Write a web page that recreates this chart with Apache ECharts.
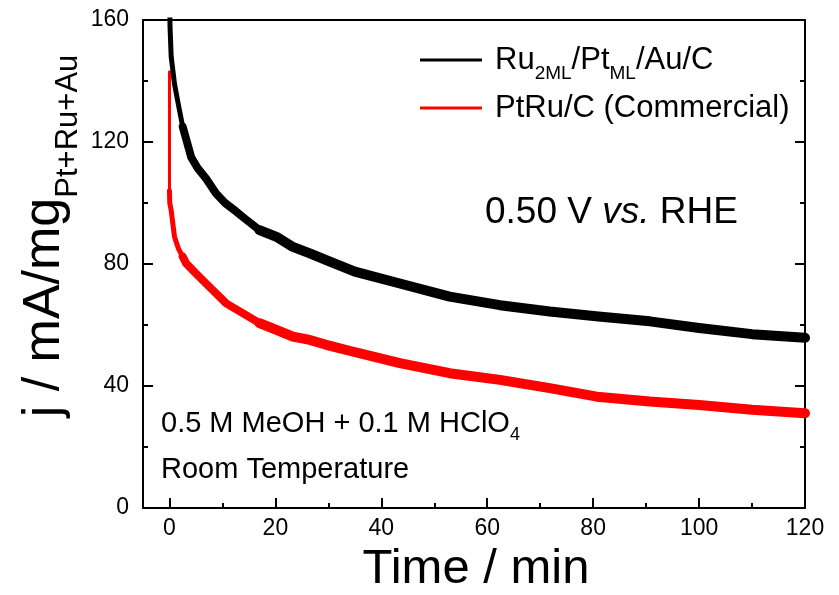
<!DOCTYPE html>
<html>
<head>
<meta charset="utf-8">
<script src="https://cdn.jsdelivr.net/npm/echarts@6/dist/echarts.min.js"></script>
<style>
  html, body { margin: 0; padding: 0; background: #fff; }
  #chart { width: 839px; height: 595px; }
</style>
</head>
<body>
<div id="chart"></div>
<script>
    // data (time in min, j in mA/mg)
    // each curve is split in pieces so the noisy band can get wider as it flattens
    var blackName = 'Ru2ML/PtML/Au/C';
    var redName = 'PtRu/C (Commercial)';

    var blackEarlyT = [0, 0.1, 0.32, 0.95, 1.6, 2.5];
    var blackEarlyJ = [172, 158, 148, 139, 133, 125];
    var blackMidT = [2.5, 3.3, 4.1, 5.3, 6.9, 8.8, 10.5, 12.6, 14.5, 17];
    var blackMidJ = [125, 120, 115, 111.5, 108, 103.1, 100, 97.2, 94.5, 91.1];
    var blackLateT = [17, 20.2, 23.3, 26.5, 29.6, 35, 43.5, 52.9, 62.4, 71.8, 81, 90.7, 100, 110, 120];
    var blackLateJ = [91.1, 88.9, 85.6, 83.5, 81.3, 77.5, 73.6, 69.3, 66.5, 64.4, 62.8, 61.2, 59, 57, 55.8];

    var redSpikeT = [0, 0];
    var redSpikeJ = [143, 104];
    var redEarlyT = [0, 0.05, 0.32, 0.95, 1.7, 2.5];
    var redEarlyJ = [104, 100, 97.6, 88.9, 85, 82.4];
    var redMidT = [2.5, 3.15, 5, 6.9, 8.8, 10.7, 13.9, 17];
    var redMidJ = [82.4, 80.2, 76.9, 73.6, 70.4, 67.1, 63.8, 60.6];
    var redLateT = [17, 20.2, 23.3, 26.5, 29.6, 33.4, 43.5, 52.9, 62.4, 71.8, 80.7, 90.7, 100, 110, 120];
    var redLateJ = [60.6, 58.4, 56.2, 55.1, 53.5, 51.8, 47.5, 44.2, 42, 39.3, 36.5, 34.9, 33.8, 32.2, 31.1];

    var xMajor = [0, 20, 40, 60, 80, 100, 120];
    var xMinor = [10, 30, 50, 70, 90, 110];

    function pairs(t, j) {
        var out = [];
        for (var i = 0; i < t.length; i++) out.push([t[i], j[i]]);
        return out;
    }

    function piece(name, color, t, j, w) {
        return {
            name: name, type: 'line', data: pairs(t, j),
            showSymbol: false, color: color,
            lineStyle: { color: color, width: w, join: 'round', cap: 'round' }
        };
    }

    var font = 'Liberation Sans, Arial, sans-serif';
    var myChart = echarts.init(document.getElementById('chart'));

    var axisLine = { show: true, onZero: false, lineStyle: { color: '#000', width: 2 } };

    option = {
        backgroundColor: '#fff',
        animation: false,
        grid: { left: 143, right: 34, top: 20, bottom: 87 },
        legend: {
            orient: 'vertical',
            left: 415,
            top: 32,
            itemWidth: 62,
            itemHeight: 3,
            itemGap: 2,
            icon: 'rect',
            selectedMode: false,
            data: [blackName, redName],
            formatter: function (name) {
                if (name === blackName) return '{a|Ru}{s|2ML}{a|/Pt}{s|ML}{a|/Au/C}';
                return name;
            },
            textStyle: {
                fontFamily: font, fontSize: 31, color: '#000', lineHeight: 46,
                padding: [0, 0, 0, 8],
                rich: {
                    a: { fontFamily: font, fontSize: 31, color: '#000', lineHeight: 46 },
                    s: { fontFamily: font, fontSize: 19, color: '#000', verticalAlign: 'bottom' }
                }
            }
        },
        xAxis: [{
            type: 'value', min: -5, max: 120, position: 'bottom',
            axisLine: axisLine,
            axisTick: { show: true, inside: true, length: 10, customValues: xMajor, lineStyle: { color: '#000', width: 2 } },
            axisLabel: { customValues: xMajor, fontFamily: font, fontSize: 23, color: '#000', margin: 9 },
            splitLine: { show: false }
        }, {
            type: 'value', min: -5, max: 120, position: 'bottom',
            axisLine: { show: false, onZero: false },
            axisTick: { show: true, inside: true, length: 5, customValues: xMinor, lineStyle: { color: '#000', width: 2 } },
            axisLabel: { show: false },
            splitLine: { show: false }
        }, {
            type: 'value', min: -5, max: 120, position: 'top',
            axisLine: axisLine,
            axisTick: { show: false },
            axisLabel: { show: false },
            splitLine: { show: false }
        }],
        yAxis: [{
            type: 'value', min: 0, max: 160, interval: 40, position: 'left',
            axisLine: axisLine,
            axisTick: { show: true, inside: true, length: 10, lineStyle: { color: '#000', width: 2 } },
            minorTick: { show: true, splitNumber: 2, length: 5, lineStyle: { color: '#000', width: 2 } },
            axisLabel: { fontFamily: font, fontSize: 23, color: '#000', margin: 14 },
            splitLine: { show: false }
        }, {
            type: 'value', min: 0, max: 160, interval: 40, position: 'right',
            axisLine: axisLine,
            axisTick: { show: true, inside: true, length: 10, lineStyle: { color: '#000', width: 2 } },
            minorTick: { show: true, splitNumber: 2, length: 5, lineStyle: { color: '#000', width: 2 } },
            axisLabel: { show: false },
            splitLine: { show: false }
        }],
        series: [
            piece(redName, '#ff0000', redSpikeT, redSpikeJ, 3),
            piece(redName, '#ff0000', redEarlyT, redEarlyJ, 5),
            piece(redName, '#ff0000', redMidT, redMidJ, 8),
            piece(redName, '#ff0000', redLateT, redLateJ, 10),
            piece(blackName, '#000', blackEarlyT, blackEarlyJ, 5),
            piece(blackName, '#000', blackMidT, blackMidJ, 8),
            piece(blackName, '#000', blackLateT, blackLateJ, 10)
        ],
        graphic: [{
            type: 'text', x: 45, y: 236, rotation: Math.PI / 2,
            style: {
                text: '{m|j / mA/mg}{s|Pt+Ru+Au}',
                align: 'center', verticalAlign: 'middle',
                rich: {
                    m: { fontFamily: font, fontSize: 52, lineHeight: 77, fill: '#000' },
                    s: { fontFamily: font, fontSize: 31, verticalAlign: 'bottom', fill: '#000' }
                }
            }
        }, {
            type: 'text', x: 476, y: 569,
            style: { text: 'Time / min', fontFamily: font, fontSize: 49, fill: '#000', align: 'center', verticalAlign: 'middle' }
        }, {
            type: 'text', x: 485, y: 213,
            style: {
                text: '{n|0.50 V }{i|vs.}{n| RHE}',
                align: 'left', verticalAlign: 'middle',
                rich: {
                    n: { fontFamily: font, fontSize: 37, fill: '#000' },
                    i: { fontFamily: font, fontSize: 37, fontStyle: 'italic', fill: '#000' }
                }
            }
        }, {
            type: 'text', x: 161, y: 424,
            style: {
                text: '{n|0.5 M MeOH + 0.1 M HClO}{s|4}',
                align: 'left', verticalAlign: 'middle',
                rich: {
                    n: { fontFamily: font, fontSize: 29, lineHeight: 41, fill: '#000' },
                    s: { fontFamily: font, fontSize: 18, verticalAlign: 'bottom', fill: '#000' }
                }
            }
        }, {
            type: 'text', x: 161, y: 470,
            style: { text: 'Room Temperature', fontFamily: font, fontSize: 29, fill: '#000', align: 'left', verticalAlign: 'middle' }
        }]
    };
    myChart.setOption(option);
</script>
</body>
</html>
